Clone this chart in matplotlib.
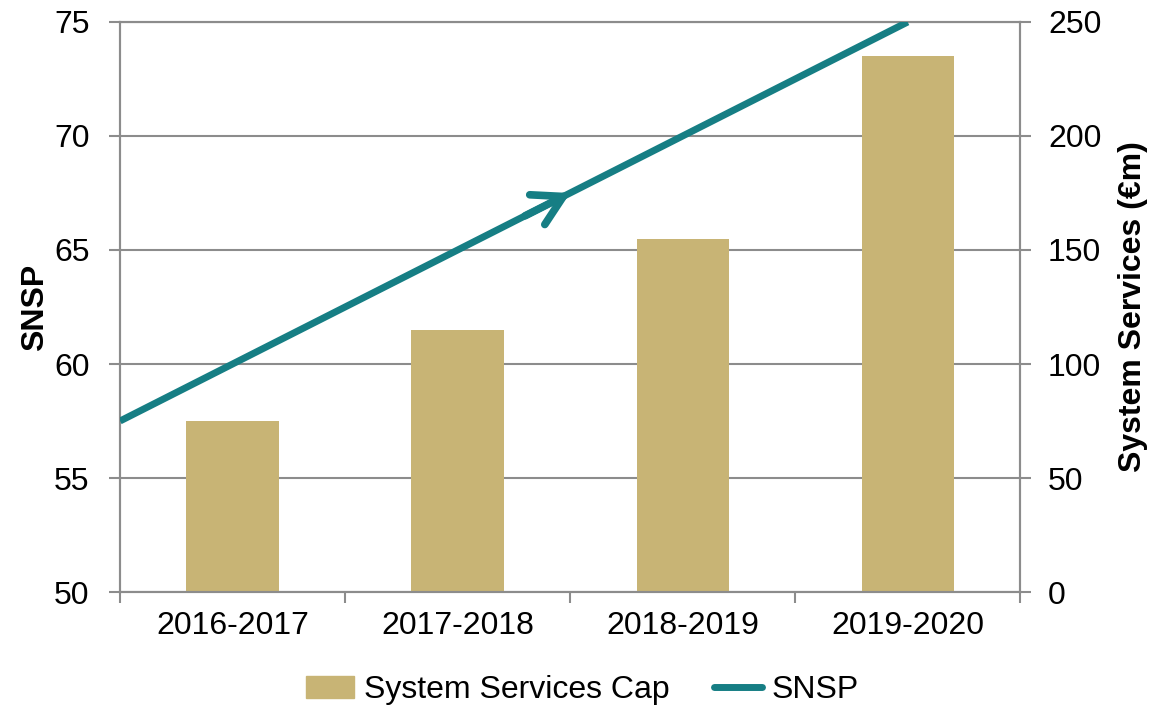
import matplotlib
matplotlib.use("Agg")
import matplotlib.pyplot as plt
import matplotlib.patches as mpatches
import matplotlib.lines as mlines
import numpy as np

plt.rcParams['font.family'] = ['Liberation Sans', 'DejaVu Sans']

# data
years = ["2016-2017", "2017-2018", "2018-2019", "2019-2020"]
cap = [75, 115, 155, 235]          # System Services Cap (EUR m), right axis
snsp = [60, 65, 70, 75]            # SNSP (%), left axis
snsp_start = 57.5                  # SNSP where the line enters at the left edge

bar_col = "#C8B475"
line_col = "#167E84"
grey = "#8C8C8C"
fs = 23
lw = 5

fig = plt.figure(figsize=(11.6, 7.09), dpi=100)
ax2 = fig.add_axes([0.1035, 0.165, 0.776, 0.804])
ax1 = ax2.twinx()
ax1.set_zorder(ax2.get_zorder() + 1)
ax1.patch.set_visible(False)

x = np.arange(len(years))
ax2.bar(x, cap, width=0.41, color=bar_col, zorder=2)
ax2.set_ylim(0, 250)
ax2.set_yticks(range(0, 251, 50))
ax2.yaxis.tick_right()
ax2.yaxis.set_label_position("right")
ax2.grid(axis="y", color=grey, lw=1.5, zorder=0)
ax2.set_axisbelow(True)
ax2.set_ylabel("System Services (€m)", fontsize=fs, fontweight="bold", labelpad=12)

# SNSP line on the left scale
lx = [-0.5] + list(x)
ly = [snsp_start] + snsp
ax1.plot(lx, ly, color=line_col, lw=lw, solid_capstyle="butt", zorder=3)
ax1.annotate("", xy=(1.5, 67.5), xytext=(1.3, 66.5),
             arrowprops=dict(arrowstyle="->,head_length=1.05,head_width=0.6",
                             color=line_col, lw=lw + 0.5, mutation_scale=20,
                             capstyle="round", joinstyle="round",
                             shrinkA=0, shrinkB=0))
ax1.set_ylim(50, 75)
ax1.set_yticks(range(50, 76, 5))
ax1.yaxis.tick_left()
ax1.yaxis.set_label_position("left")
ax1.set_ylabel("SNSP", fontsize=fs, fontweight="bold", labelpad=3)

ax2.set_xlim(-0.5, len(years) - 0.5)
ax2.set_xticks(x)
ax2.set_xticklabels(years)
ax2.set_xticks(np.arange(-0.5, len(years), 1.0), minor=True)
ax2.tick_params(axis="x", which="major", length=0, pad=14, labelsize=fs)
ax2.tick_params(axis="x", which="minor", length=8, width=1.5, color=grey)

ax1.tick_params(axis="y", length=8, width=1.5, color=grey, labelsize=fs, pad=14)
ax2.tick_params(axis="y", length=8, width=1.5, color=grey, labelsize=fs, pad=12)
for ax in (ax1, ax2):
    for s in ax.spines.values():
        s.set_color(grey)
        s.set_linewidth(1.5)

handles = [mpatches.Patch(color=bar_col, label="System Services Cap"),
           mlines.Line2D([], [], color=line_col, lw=lw, solid_capstyle="round", label="SNSP")]
fig.legend(handles=handles, loc="lower center", bbox_to_anchor=(0.502, -0.035), ncol=2,
           frameon=False, fontsize=fs, handlelength=1.5, handletextpad=0.3,
           columnspacing=1.4)

fig.savefig("out.png", dpi=100)
